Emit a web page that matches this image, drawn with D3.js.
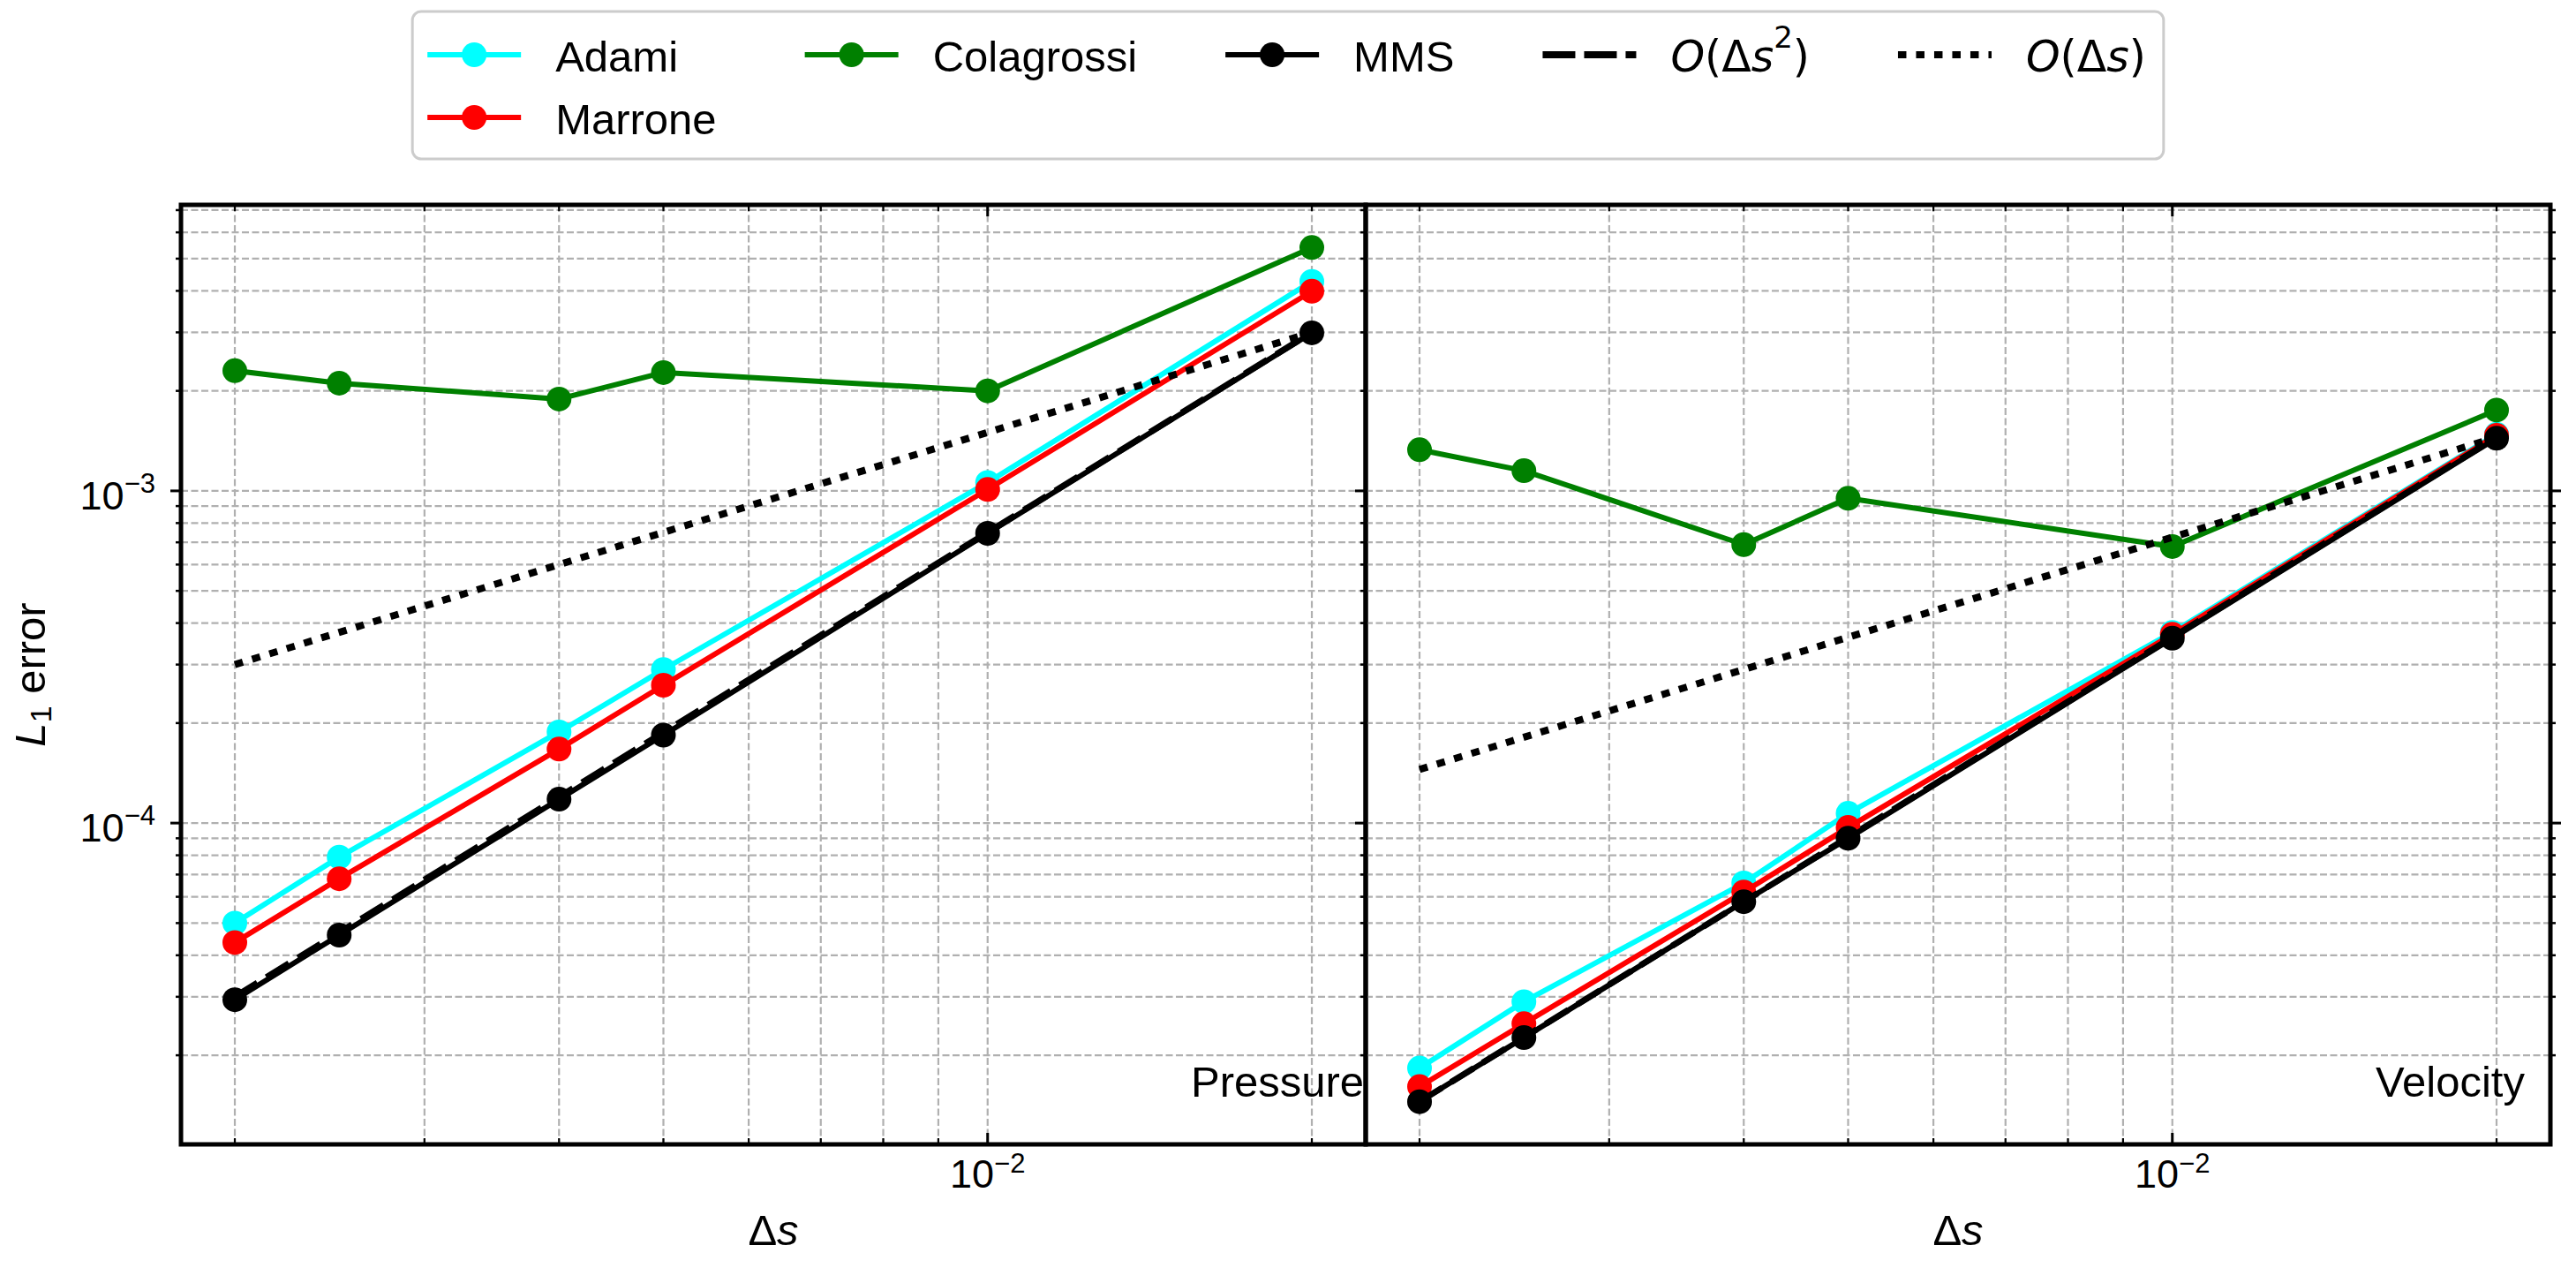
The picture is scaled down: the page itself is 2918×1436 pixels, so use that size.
<!DOCTYPE html>
<html>
<head>
<meta charset="utf-8">
<script src="https://cdn.jsdelivr.net/npm/d3@7"></script>
<style>
  html, body { margin: 0; padding: 0; background: #fff; }
  svg { display: block; font-family: "Liberation Sans", Arial, Helvetica, sans-serif; }
</style>
</head>
<body>
<svg id="chart" width="2918" height="1436"></svg>
<script>
// grid spacings (x values), shared by both panels
const deltaS = [0.002, 0.0025, 0.004, 0.005, 0.01, 0.02];

// pressure errors
const adamiPressure      = [5.0e-5, 7.9e-5, 1.88e-4, 2.9e-4, 1.06e-3, 4.27e-3];
const marronePressure    = [4.37e-5, 6.8e-5, 1.67e-4, 2.6e-4, 1.01e-3, 3.99e-3];
const colagrossiPressure = [2.3e-3, 2.11e-3, 1.89e-3, 2.27e-3, 2.0e-3, 5.4e-3];
const mmsPressure        = [2.94e-5, 4.6e-5, 1.18e-4, 1.84e-4, 7.45e-4, 2.99e-3];

// velocity errors
const adamiVelocity      = [1.83e-5, 2.9e-5, 6.6e-5, 1.07e-4, 3.75e-4, 1.48e-3];
const marroneVelocity    = [1.61e-5, 2.49e-5, 6.2e-5, 9.7e-5, 3.7e-4, 1.47e-3];
const colagrossiVelocity = [1.33e-3, 1.15e-3, 6.89e-4, 9.5e-4, 6.8e-4, 1.75e-3];
const mmsVelocity        = [1.45e-5, 2.26e-5, 5.8e-5, 9.0e-5, 3.6e-4, 1.44e-3];

// reference slopes, drawn between the first and last spacing
const refDeltaS = [0.002, 0.02];
const orderTwoPressure = [3.0e-5, 3.0e-3];
const orderOnePressure = [3.0e-4, 3.0e-3];
const orderTwoVelocity = [1.45e-5, 1.45e-3];
const orderOneVelocity = [1.45e-4, 1.45e-3];

const seriesNames  = ['Adami', 'Marrone', 'Colagrossi', 'MMS'];
const seriesColors = ['#00ffff', '#ff0000', '#008000', '#000000'];
const panelTitles  = ['Pressure', 'Velocity'];

const panels = [
  { title: panelTitles[0],
    series: [adamiPressure, marronePressure, colagrossiPressure, mmsPressure],
    orderTwo: orderTwoPressure, orderOne: orderOnePressure },
  { title: panelTitles[1],
    series: [adamiVelocity, marroneVelocity, colagrossiVelocity, mmsVelocity],
    orderTwo: orderTwoVelocity, orderOne: orderOneVelocity }
];

const W = 2918, H = 1436;
const plotTop = 232, plotBottom = 1296;
const panelLeft = [205, 1547];
const panelWidth = 1342;
const fontSize = 49;

const svg = d3.select('#chart');
svg.append('rect').attr('width', W).attr('height', H).attr('fill', '#fff');

// matplotlib-like autoscale: 5% margin in log space
function logPad(values) {
  const [lo, hi] = d3.extent(values).map(Math.log10);
  const pad = (hi - lo) * 0.05;
  return [10 ** (lo - pad), 10 ** (hi + pad)];
}

const allY = panels.flatMap(p => [...p.series.flat(), ...p.orderTwo, ...p.orderOne]);
const y = d3.scaleLog().domain(logPad(allY)).range([plotBottom, plotTop]);
const xDomain = logPad(deltaS);

const isMajor = v => Math.abs(Math.log10(v) - Math.round(Math.log10(v))) < 1e-9;

function powLabel(text, v, raise) {
  const e = Math.round(Math.log10(v));
  text.append('tspan').text('10');
  text.append('tspan').attr('font-size', 31).attr('dy', -raise).text('\u2212' + (-e));
}

panels.forEach((panel, pi) => {
  const left = panelLeft[pi], right = left + panelWidth;
  const x = d3.scaleLog().domain(xDomain).range([left, right]);
  const g = svg.append('g');

  // grid, major and minor
  const grid = g.append('g')
    .attr('stroke', '#b0b0b0').attr('stroke-width', 2.2).attr('stroke-dasharray', '8 3.5');
  x.ticks().forEach(v => {
    grid.append('line').attr('x1', x(v)).attr('x2', x(v)).attr('y1', plotTop).attr('y2', plotBottom);
  });
  y.ticks().forEach(v => {
    grid.append('line').attr('x1', left).attr('x2', right).attr('y1', y(v)).attr('y2', y(v));
  });

  const line = d3.line().x(d => x(d[0])).y(d => y(d[1]));

  // data series
  panel.series.forEach((vals, si) => {
    const pts = d3.zip(deltaS, vals);
    g.append('path').attr('d', line(pts))
      .attr('fill', 'none').attr('stroke', seriesColors[si]).attr('stroke-width', 6)
      .attr('stroke-linejoin', 'round').attr('stroke-linecap', 'square');
    g.selectAll(null).data(pts).enter().append('circle')
      .attr('cx', d => x(d[0])).attr('cy', d => y(d[1])).attr('r', 14)
      .attr('fill', seriesColors[si]);
  });

  // reference slopes
  g.append('path').attr('d', line(d3.zip(refDeltaS, panel.orderTwo)))
    .attr('fill', 'none').attr('stroke', '#000').attr('stroke-width', 7)
    .attr('stroke-dasharray', '30 12');
  g.append('path').attr('d', line(d3.zip(refDeltaS, panel.orderOne)))
    .attr('fill', 'none').attr('stroke', '#000').attr('stroke-width', 8)
    .attr('stroke-dasharray', '9.5 11');

  // spines
  g.append('rect').attr('x', left).attr('y', plotTop)
    .attr('width', panelWidth).attr('height', plotBottom - plotTop)
    .attr('fill', 'none').attr('stroke', '#000').attr('stroke-width', 5);

  // x ticks, inward on top and bottom
  const ticks = g.append('g').attr('stroke', '#000');
  x.ticks().forEach(v => {
    const len = isMajor(v) ? 13 : 7;
    const w = isMajor(v) ? 3 : 2.2;
    ticks.append('line').attr('x1', x(v)).attr('x2', x(v))
      .attr('y1', plotBottom).attr('y2', plotBottom - len).attr('stroke-width', w);
    ticks.append('line').attr('x1', x(v)).attr('x2', x(v))
      .attr('y1', plotTop).attr('y2', plotTop + len).attr('stroke-width', w);
    if (isMajor(v)) {
      const t = g.append('text').attr('x', x(v)).attr('y', 1345)
        .attr('text-anchor', 'middle').attr('font-size', 45);
      powLabel(t, v, 17);
    }
  });

  // y ticks, outward; right panel has them on both sides
  const sides = pi === 0 ? [[left, -1]] : [[left, -1], [right, 1]];
  y.ticks().forEach(v => {
    const len = isMajor(v) ? 12 : 6;
    const w = isMajor(v) ? 3 : 2.5;
    sides.forEach(([sx, dir]) => {
      ticks.append('line').attr('x1', sx).attr('x2', sx + dir * len)
        .attr('y1', y(v)).attr('y2', y(v)).attr('stroke-width', w);
    });
    if (pi === 0 && isMajor(v)) {
      const t = g.append('text').attr('x', 176).attr('y', y(v) + 21)
        .attr('text-anchor', 'end').attr('font-size', 45);
      powLabel(t, v, 19);
    }
  });

  // panel title in lower right
  g.append('text').attr('x', left + panelWidth * 0.8525).attr('y', 1242)
    .attr('font-size', fontSize).text(panel.title);

  // x label
  const xl = g.append('text').attr('x', (left + right) / 2).attr('y', 1410)
    .attr('text-anchor', 'middle').attr('font-size', fontSize);
  xl.append('tspan').text('\u0394');
  xl.append('tspan').attr('font-style', 'italic').text('s');
});

// y label
const yl = svg.append('text')
  .attr('transform', `translate(51,${(plotTop + plotBottom) / 2}) rotate(-90)`)
  .attr('text-anchor', 'middle').attr('font-size', fontSize);
yl.append('tspan').attr('font-style', 'italic').text('L');
yl.append('tspan').attr('font-size', 34).attr('dy', 7).text('1');
yl.append('tspan').attr('dy', -7).text(' error');

// legend
const mathOrderTwo = [['O', 'i'], ['(\u0394', ''], ['s', 'i'], ['2', 'sup'], [')', '']];
const mathOrderOne = [['O', 'i'], ['(\u0394', ''], ['s', 'i'], [')', '']];
const legendItems = [
  ...seriesNames.map((n, i) => ({ label: n, color: seriesColors[i], marker: true, dash: null, width: 6 })),
  { math: mathOrderTwo, color: '#000', marker: false, dash: '37 10', width: 8 },
  { math: mathOrderOne, color: '#000', marker: false, dash: '9.5 11', width: 8 }
];
const legendColumns = [[0, 1], [2], [3], [4], [5]];
const rowY = [62, 133];
const handleLen = 106, handlePad = 39, colSpacing = 100, boxPadL = 17, boxPadR = 20;

const legend = svg.append('g');
const box = legend.append('rect');
let cx = 0;
const items = legend.append('g');
legendColumns.forEach(col => {
  let maxW = 0;
  col.forEach((idx, r) => {
    const it = legendItems[idx];
    const ly = rowY[r];
    items.append('line').attr('x1', cx).attr('x2', cx + handleLen).attr('y1', ly).attr('y2', ly)
      .attr('stroke', it.color).attr('stroke-width', it.width)
      .attr('stroke-dasharray', it.dash);
    if (it.marker) {
      items.append('circle').attr('cx', cx + handleLen / 2).attr('cy', ly).attr('r', 14).attr('fill', it.color);
    }
    const t = items.append('text').attr('x', cx + handleLen + handlePad).attr('y', ly + 19)
      .attr('font-size', fontSize);
    if (it.math) {
      t.attr('font-family', '"DejaVu Sans", sans-serif');
      it.math.forEach(([s, kind]) => {
        const sp = t.append('tspan').text(s);
        if (kind === 'i') sp.attr('font-style', 'italic');
        if (kind === 'sup') sp.attr('font-size', 34).attr('dy', -27);
        if (kind === '' && s === ')' && it.math.some(m => m[1] === 'sup')) sp.attr('dy', 27);
      });
    } else {
      t.text(it.label);
    }
    maxW = Math.max(maxW, t.node().getComputedTextLength());
  });
  cx += handleLen + handlePad + maxW + colSpacing;
});
const contentW = cx - colSpacing;
const boxW = contentW + boxPadL + boxPadR;
const boxX = W / 2 - boxW / 2;
items.attr('transform', `translate(${boxX + boxPadL},0)`);
box.attr('x', boxX).attr('y', 13).attr('width', boxW).attr('height', 167)
  .attr('rx', 10).attr('fill', '#fff').attr('stroke', '#cccccc').attr('stroke-width', 3);
</script>
</body>
</html>
